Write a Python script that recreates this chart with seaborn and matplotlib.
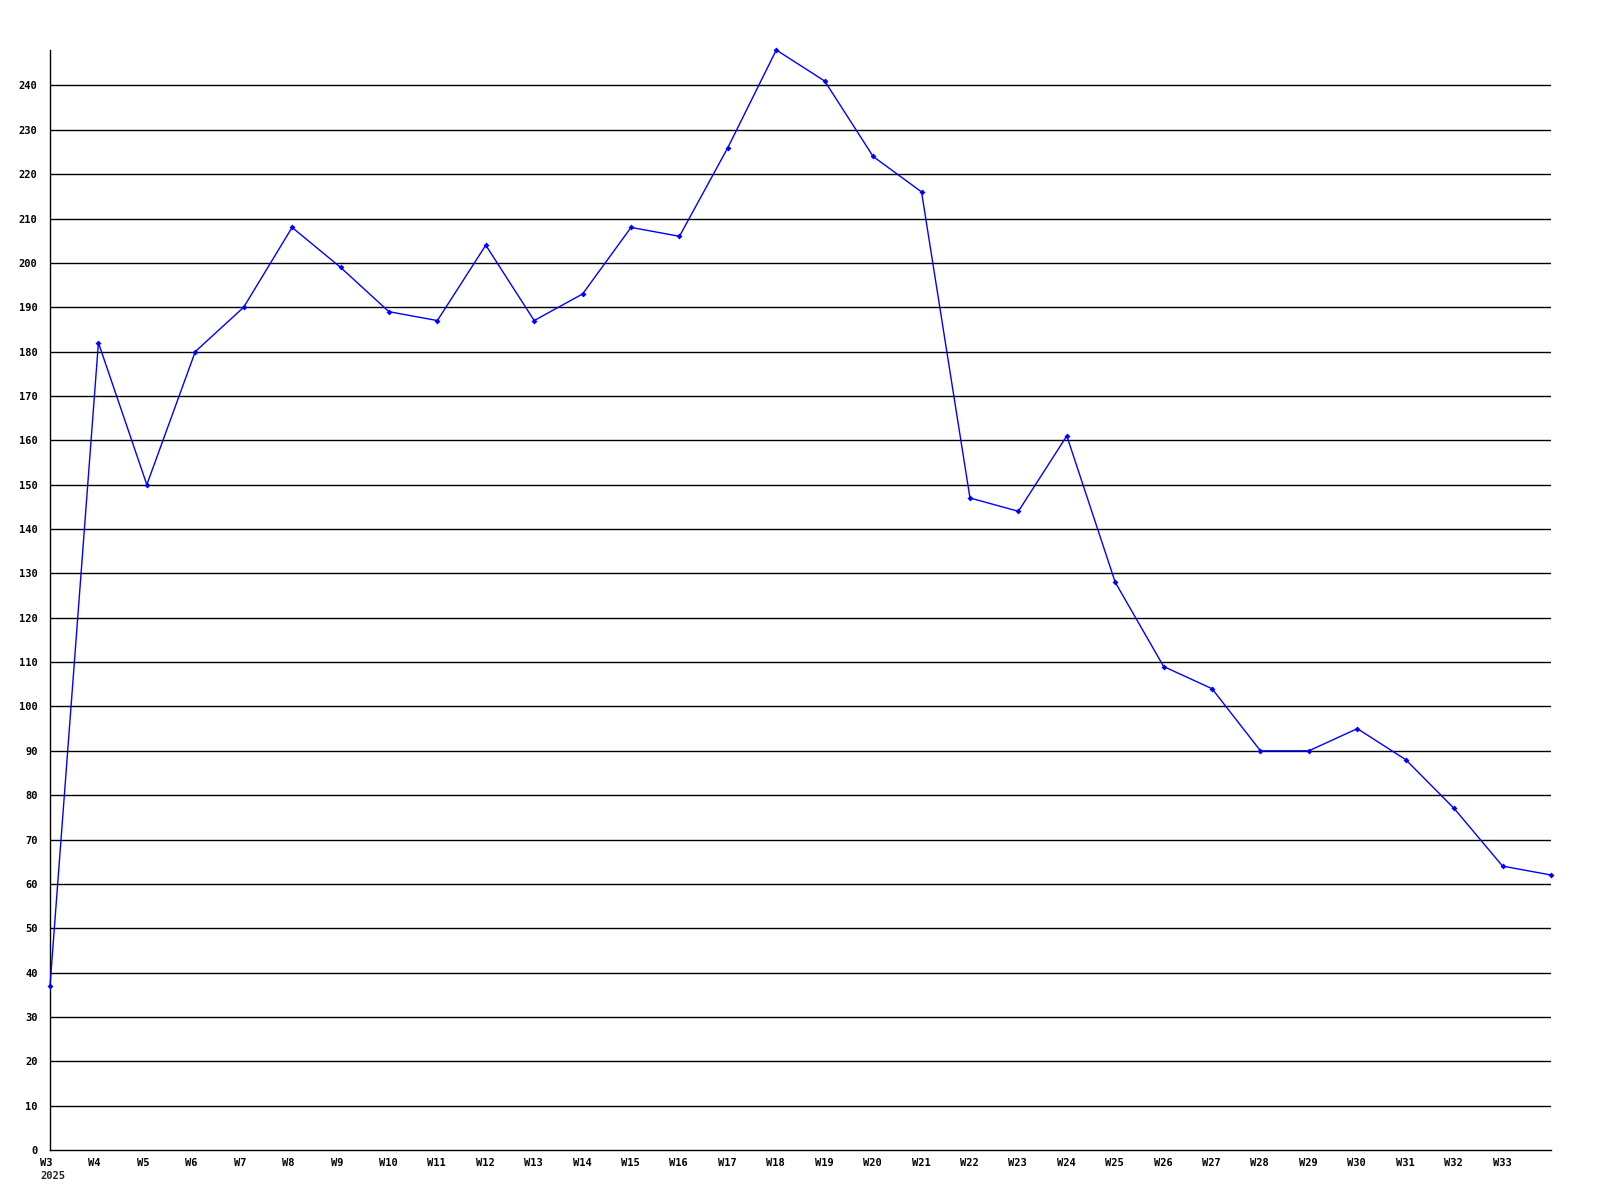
import matplotlib
matplotlib.use("Agg")
import matplotlib.pyplot as plt
import matplotlib.transforms as mtransforms
import seaborn as sns
import pandas as pd

weeks = list(range(3, 35))
week_labels = ["W%d" % w for w in range(3, 34)]
values = [37, 182, 150, 180, 190, 208, 199, 189, 187, 204, 187, 193, 208, 206,
          226, 248, 241, 224, 216, 147, 144, 161, 128, 109, 104, 90, 90, 95, 88,
          77, 64, 62]
y_ticks = list(range(0, 250, 10))
year_label = "2025"

sns.set_theme(style="white")
plt.rcParams['font.family'] = ['DejaVu Sans Mono']

df = pd.DataFrame({"week": weeks, "value": values})

fig = plt.figure(figsize=(16, 12), dpi=100)
ax = fig.add_axes([50/1600, 50/1200, 1501/1600, 1100/1200])

for t in y_ticks[1:]:
    ax.axhline(t, color="black", linewidth=1.0, zorder=1)

sns.lineplot(data=df, x="week", y="value", ax=ax, color="#0000ff", linewidth=1.0,
             marker="D", markersize=3, markeredgewidth=0, zorder=3, clip_on=False)

ax.set_xlim(3, 34)
ax.set_ylim(0, 248)
ax.set_xlabel("")
ax.set_ylabel("")
ax.set_xticks(range(3, 34))
ax.set_xticklabels(week_labels, fontsize=7.5, fontweight="bold", ha="left")
ax.set_yticks(y_ticks)
ax.set_yticklabels([str(t) for t in y_ticks], fontsize=7.5, fontweight="bold")
ax.tick_params(axis="both", length=0, colors="black")
ax.tick_params(axis="y", pad=9)
ax.tick_params(axis="x", pad=6)

offset = mtransforms.ScaledTranslation(-10/100, 0, fig.dpi_scale_trans)
for lbl in ax.get_xticklabels():
    lbl.set_transform(lbl.get_transform() + offset)

ax.text(40/1600, 24/1200, year_label, transform=fig.transFigure, ha="left",
        va="center", fontsize=7.5, fontweight="bold")

for s in ["top", "right"]:
    ax.spines[s].set_visible(False)
for s in ["left", "bottom"]:
    ax.spines[s].set_color("black")
    ax.spines[s].set_linewidth(1.0)

fig.savefig("out.png", dpi=100, facecolor="white")
